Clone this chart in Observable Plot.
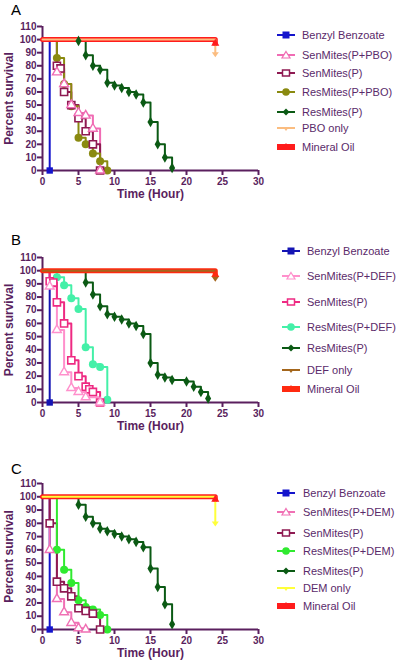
<!DOCTYPE html>
<html><head><meta charset="utf-8">
<script src="https://cdn.jsdelivr.net/npm/d3@7"></script>
<script src="https://cdn.jsdelivr.net/npm/@observablehq/plot@0.6"></script>
<style>
body{margin:0;background:#fff;font-family:"Liberation Sans",Arial,sans-serif;}
#root{position:relative;width:403px;height:666px;overflow:hidden;background:#fff;}
.panel{position:absolute;left:0;}
.letter{position:absolute;font-size:15px;color:#000;line-height:1;}
.leg{position:absolute;font-size:11px;color:#5a2a6a;white-space:nowrap;line-height:12px;}
.leg svg{position:absolute;top:0;}
</style></head><body><div id="root"></div>
<script>
// ---------- shared axis values ----------
const xTicks = [0, 5, 10, 15, 20, 25, 30];
const yTicks = [0, 10, 20, 30, 40, 50, 60, 70, 80, 90, 100, 110];

// ---------- Panel A (PBO) : [time, percent survival] ----------
const A_benzyl = [[1, 0]];
const A_senSyn = [[2, 75], [3, 66], [4, 50], [5, 44], [6, 42], [7, 32], [8, 0]];
const A_senP = [[2, 80], [2.5, 78], [3, 60], [4, 50], [5, 40], [6, 30], [7, 20], [8, 0]];
const A_resSyn = [[2, 86], [3, 66], [4, 49], [5, 25], [6, 20], [7, 13], [8, 7], [9, 0]];
const A_resP = [[5, 99], [6, 88], [7, 80], [8, 77], [9, 67], [10, 65], [11, 63], [12, 60], [13, 58], [14, 52], [15, 37], [16, 20], [17, 10], [18, 2]];
const A_only = [[24, 89]];
const A_oil = [[24, 97]];
const A_labels = ["Benzyl Benzoate", "SenMites(P+PBO)", "SenMites(P)", "ResMites(P+PBO)", "ResMites(P)", "PBO only", "Mineral Oil"];

// ---------- Panel B (DEF) ----------
const B_benzyl = [[1, 0]];
const B_senSyn = [[1, 88], [2, 55], [3, 23], [4, 11], [5, 8], [6, 4], [8, 0]];
const B_senP = [[1, 92], [1.5, 91], [2, 76], [3, 60], [4, 32], [5, 20], [6, 12], [6.5, 10], [7, 8], [8, 0]];
const B_resSyn = [[2, 95], [3, 89], [4, 79], [5, 71], [6, 42], [7, 29], [8, 27], [9, 2]];
const B_resP = [[6, 91], [7, 82], [8, 73], [9, 67], [10, 65], [11, 63], [12, 60], [13, 58], [14, 52], [15, 30], [16, 21], [17, 19], [18, 17], [20, 16], [21, 12], [22, 8], [23, 3]];
const B_only = [[24, 94]];
const B_oil = [[24, 97]];
const B_labels = ["Benzyl Benzoate", "SenMites(P+DEF)", "SenMites(P)", "ResMites(P+DEF)", "ResMites(P)", "DEF only", "Mineral Oil"];

// ---------- Panel C (DEM) ----------
const C_benzyl = [[1, 0]];
const C_senSyn = [[1, 60], [2, 23], [3, 13], [4, 5], [5, 1], [6, 0]];
const C_senP = [[1, 80], [2, 36], [3, 31], [4, 25], [5, 16], [6, 14], [7, 12], [8, 0]];
const C_resSyn = [[2, 60], [3, 45], [4, 35], [5, 22], [6, 17], [7, 15], [8, 11], [9, 0]];
const C_resP = [[5, 94], [6, 85], [7, 80], [8, 76], [9, 74], [10, 72], [11, 70], [12, 68], [13, 66], [14, 62], [15, 46], [16, 32], [17, 19], [18, 4]];
const C_only = [[24, 80]];
const C_oil = [[24, 98]];
const C_labels = ["Benzyl Benzoate", "SenMites(P+DEM)", "SenMites(P)", "ResMites(P+DEM)", "ResMites(P)", "DEM only", "Mineral Oil"];

// ---------- colours ----------
const purple = "#5a1f5e";
const A_colors = ["#1414cc", "#f06cb4", "#8e1a52", "#8a8a10", "#0b5a14", "#fbbd80", "#ff1c1c"];
const B_colors = ["#1414b4", "#ff90cc", "#ee2a82", "#44f0a8", "#0b5a14", "#a4661c", "#ff2a10"];
const C_colors = ["#1414cc", "#f070b4", "#8e1a52", "#30ea30", "#0b5a14", "#ffff3a", "#ff1c1c"];
const kinds = ["sqFill", "triOpen", "sqOpen", "circle", "diamond", "triDown", "oil"];

const triDown = {
  draw(ctx, size) {
    const h = Math.sqrt(size) * 0.55;
    ctx.moveTo(-h, -h * 0.5);
    ctx.lineTo(h, -h * 0.5);
    ctx.lineTo(0, h * 0.9);
    ctx.closePath();
  }
};

function makePanel(series, colors, frameH) {
  const X = d => d[0], Y = d => d[1];
  const marks = [];
  marks.push(Plot.ruleX([0], {y1: 0, y2: 110, stroke: purple, strokeWidth: 2}));
  marks.push(Plot.ruleY([0], {x1: 0, x2: 30, stroke: purple, strokeWidth: 2}));
  marks.push(Plot.axisX({ticks: xTicks, tickSize: 5, tickPadding: 2, stroke: purple, strokeWidth: 2, fill: purple, fontSize: 10, fontWeight: "bold", label: null}));
  marks.push(Plot.axisY({ticks: yTicks, tickSize: 5, tickPadding: 1, stroke: purple, strokeWidth: 2, fill: purple, fontSize: 10, fontWeight: "bold", label: null}));
  marks.push(Plot.text(["Time (Hour)"], {frameAnchor: "bottom", dy: 27, fontSize: 12, fontWeight: "bold", fill: purple}));
  marks.push(Plot.text(["Percent survival"], {frameAnchor: "left", textAnchor: "middle", dx: -33, rotate: -90, fontSize: 12, fontWeight: "bold", fill: purple}));
  // survival step lines (series 0..4)
  for (let i = 0; i < 5; i++) {
    marks.push(Plot.line([[0, 100], ...series[i]], {x: X, y: Y, curve: "step-after", stroke: colors[i], strokeWidth: 2}));
  }
  // mineral oil (thick) and synergist-only line on top
  marks.push(Plot.line([[0, 100], ...series[6]], {x: X, y: Y, curve: "step-after", stroke: colors[6], strokeWidth: 5}));
  marks.push(Plot.line([[0, 100], ...series[5]], {x: X, y: Y, curve: "step-after", stroke: colors[5], strokeWidth: 2}));
  // markers
  marks.push(Plot.dot(series[3], {x: X, y: Y, symbol: "circle", r: 4, fill: colors[3]}));
  marks.push(Plot.dot(series[4], {x: X, y: Y, symbol: "diamond", r: 3.2, fill: colors[4]}));
  marks.push(Plot.dot(series[2], {x: X, y: Y, symbol: "square", r: 4, fill: "#fff", stroke: colors[2], strokeWidth: 1.6}));
  marks.push(Plot.dot(series[1], {x: X, y: Y, symbol: "triangle", r: 3.3, fill: "#fff", stroke: colors[1], strokeWidth: 1.4}));
  marks.push(Plot.dot(series[0], {x: X, y: Y, symbol: "square", r: 3.6, fill: colors[0]}));
  marks.push(Plot.dot(series[6], {x: X, y: Y, symbol: "triangle", r: 3, fill: colors[6]}));
  marks.push(Plot.dot(series[5], {x: X, y: Y, symbol: triDown, r: 3.6, fill: colors[5]}));
  return Plot.plot({
    width: 270, height: 26 + frameH + 35,
    marginLeft: 42, marginRight: 12, marginTop: 26, marginBottom: 35,
    x: {domain: [0, 30]}, y: {domain: [0, 110]},
    style: {fontFamily: "'Liberation Sans', Arial, sans-serif", background: "transparent", overflow: "visible"},
    marks
  });
}

function legendSymbol(kind, color) {
  const cx = 9, cy = 6;
  let m = "";
  if (kind === "sqFill") m = `<rect x="${cx-3.5}" y="${cy-3.5}" width="7" height="7" fill="${color}"/>`;
  if (kind === "sqOpen") m = `<rect x="${cx-3.5}" y="${cy-3}" width="7" height="6" fill="#fff" stroke="${color}" stroke-width="1.5"/>`;
  if (kind === "triOpen") m = `<path d="M${cx},${cy-3.5}L${cx+4},${cy+3}L${cx-4},${cy+3}Z" fill="#fff" stroke="${color}" stroke-width="1.2"/>`;
  if (kind === "circle") m = `<circle cx="${cx}" cy="${cy}" r="3.8" fill="${color}"/>`;
  if (kind === "diamond") m = `<path d="M${cx},${cy-3.5}L${cx+3.5},${cy}L${cx},${cy+3.5}L${cx-3.5},${cy}Z" fill="${color}"/>`;
  if (kind === "triDown") m = `<path d="M${cx-3},${cy-1}L${cx+3},${cy-1}L${cx},${cy+3}Z" fill="${color}"/>`;
  if (kind === "oil") m = `<path d="M${cx},${cy-4}L${cx+4},${cy+2}L${cx-4},${cy+2}Z" fill="${color}"/>`;
  const w = kind === "oil" ? 6 : 2;
  return `<svg width="18" height="12" viewBox="0 0 18 12"><line x1="0" y1="6" x2="18" y2="6" stroke="${color}" stroke-width="${w}"/>${m}</svg>`;
}

const root = document.getElementById("root");
const panels = [
  {letter: "A", top: 0, letterTop: 2, frameH: 144, series: [A_benzyl, A_senSyn, A_senP, A_resSyn, A_resP, A_only, A_oil], colors: A_colors, labels: A_labels,
   legX: 277, legText: 302, legY: [35, 55, 73, 92, 112, 128, 147]},
  {letter: "B", top: 231, letterTop: 232, frameH: 145, series: [B_benzyl, B_senSyn, B_senP, B_resSyn, B_resP, B_only, B_oil], colors: B_colors, labels: B_labels,
   legX: 282, legText: 307, legY: [251, 276, 302, 327, 348, 370, 389]},
  {letter: "C", top: 457, letterTop: 461, frameH: 146, series: [C_benzyl, C_senSyn, C_senP, C_resSyn, C_resP, C_only, C_oil], colors: C_colors, labels: C_labels,
   legX: 277, legText: 303, legY: [493, 512, 533, 551, 571, 588, 606]}
];

for (const p of panels) {
  const div = document.createElement("div");
  div.className = "panel";
  div.style.top = p.top + "px";
  div.appendChild(makePanel(p.series, p.colors, p.frameH));
  root.appendChild(div);
  const L = document.createElement("div");
  L.className = "letter";
  L.style.left = "11px";
  L.style.top = p.letterTop + "px";
  L.textContent = p.letter;
  root.appendChild(L);
  p.labels.forEach((lab, i) => {
    const row = document.createElement("div");
    row.className = "leg";
    row.style.left = p.legX + "px";
    row.style.top = (p.legY[i] - 6) + "px";
    row.style.paddingLeft = (p.legText - p.legX) + "px";
    row.innerHTML = legendSymbol(kinds[i], p.colors[i]).replace("<svg", '<svg style="left:0"') + `<span>${lab}</span>`;
    root.appendChild(row);
  });
}
</script></body></html>
